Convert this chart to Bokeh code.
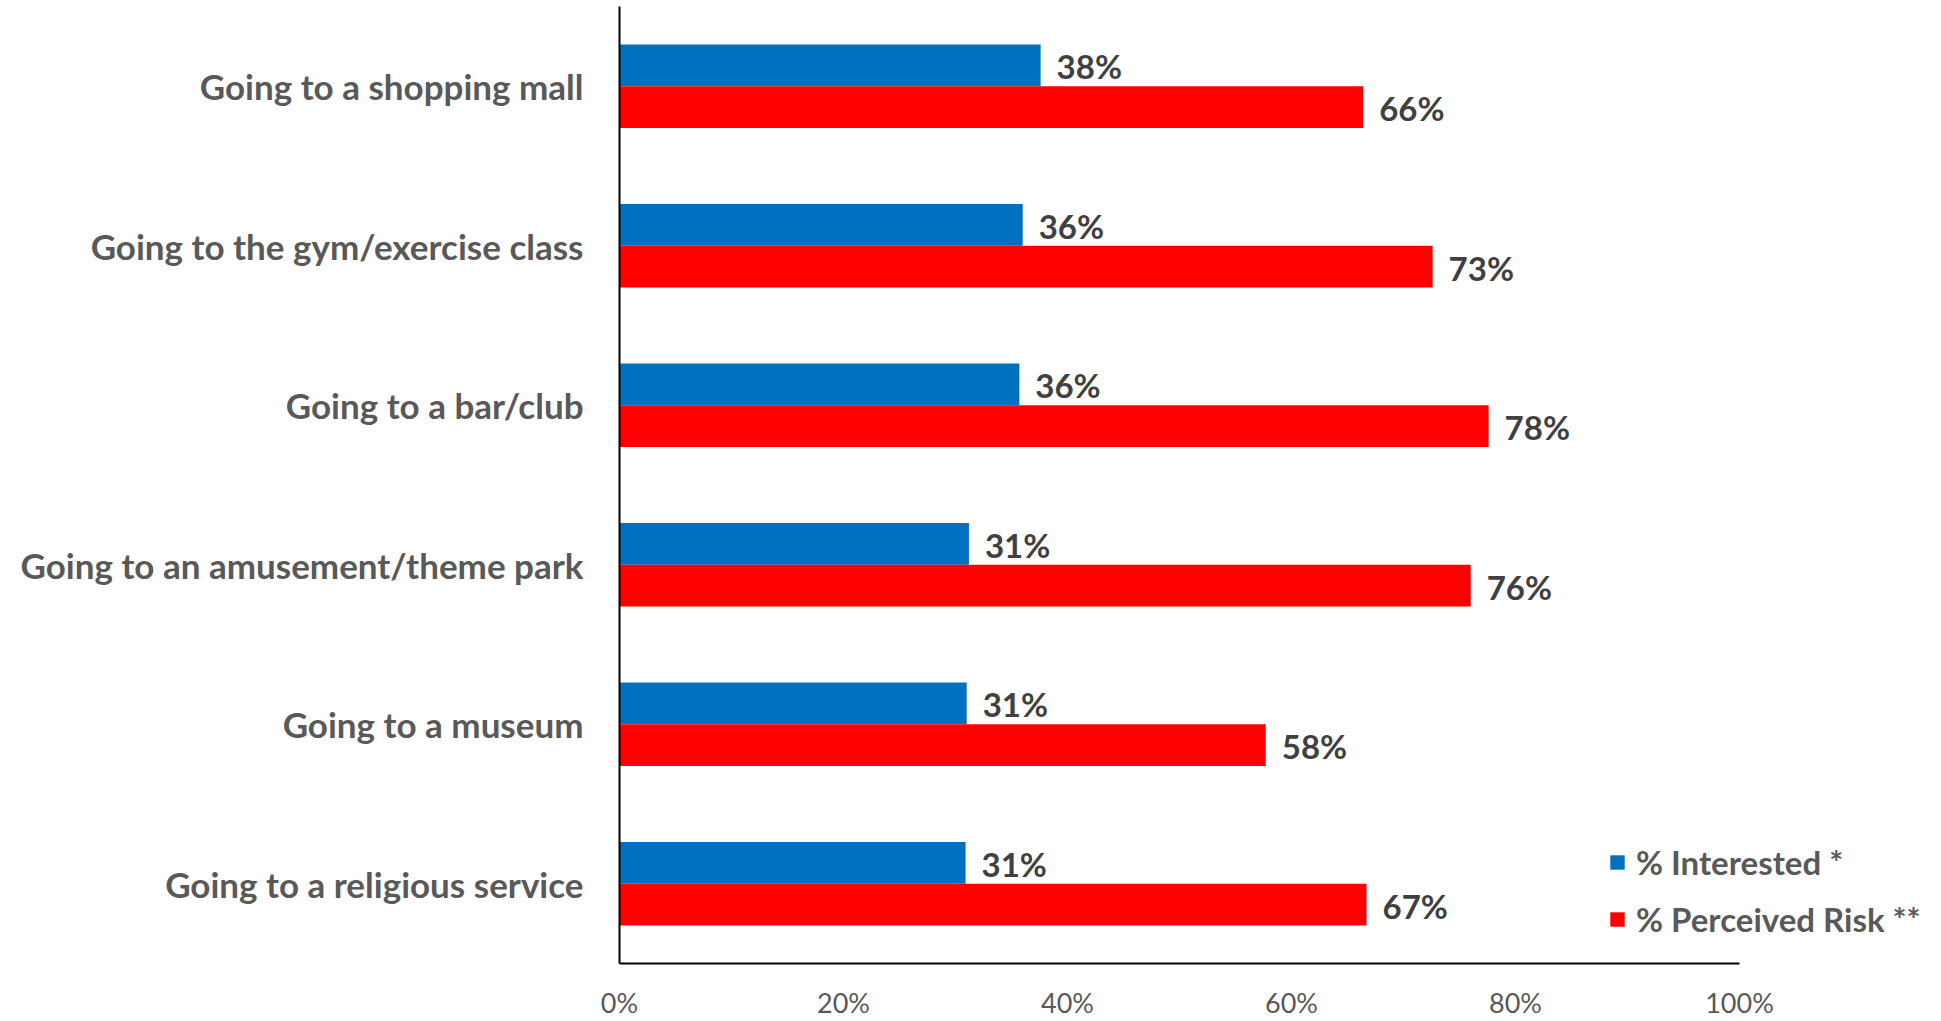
from bokeh.plotting import figure
from bokeh.models import (ColumnDataSource, FactorRange, Range1d, Legend, LegendItem, FixedTicker)
from bokeh.transform import dodge
from bokeh.embed import file_html
from bokeh.resources import INLINE
from bokeh.core.properties import value

categories = ["Going to a shopping mall", "Going to the gym/exercise class", "Going to a bar/club",
              "Going to an amusement/theme park", "Going to a museum", "Going to a religious service"]
interested = [37.6, 36.0, 35.7, 31.2, 31.0, 30.9]
perceived_risk = [66.4, 72.6, 77.6, 76.0, 57.7, 66.7]
x_ticks = [0, 20, 40, 60, 80, 100]

BLUE = "#0070C0"
RED = "#FF0000"
FONT = "Lato"

src = ColumnDataSource(dict(
    cat=categories,
    interested=interested,
    risk=perceived_risk,
    interested_lbl=[f"{round(v):d}%" for v in interested],
    risk_lbl=[f"{round(v):d}%" for v in perceived_risk],
))

LEFT = 619
RIGHT_BORDER = 5
PX_PER_PCT = 11.2
x_end = (1941 - LEFT - RIGHT_BORDER) / PX_PER_PCT

p = figure(width=1941, height=1021, output_backend="svg", toolbar_location=None,
           y_range=FactorRange(factors=list(reversed(categories)), range_padding=0),
           x_range=Range1d(0, x_end),
           min_border_left=LEFT, min_border_right=RIGHT_BORDER, min_border_top=6, min_border_bottom=55)

bh = 0.2625
r1 = p.hbar(y=dodge("cat", bh / 2, range=p.y_range), right="interested", left=0, height=bh,
            source=src, fill_color=BLUE, line_color=None)
r2 = p.hbar(y=dodge("cat", -bh / 2, range=p.y_range), right="risk", left=0, height=bh,
            source=src, fill_color=RED, line_color=None)

p.text(x="interested", y=dodge("cat", bh / 2, range=p.y_range), text="interested_lbl", source=src,
       x_offset=16, y_offset=1, text_baseline="middle", text_font=value(FONT),
       text_font_style="bold", text_font_size="33px", text_color="#404040")
p.text(x="risk", y=dodge("cat", -bh / 2, range=p.y_range), text="risk_lbl", source=src,
       x_offset=16, y_offset=1, text_baseline="middle", text_font=value(FONT),
       text_font_style="bold", text_font_size="33px", text_color="#404040")

p.xgrid.grid_line_color = None
p.ygrid.grid_line_color = None
p.outline_line_color = None

p.xaxis.ticker = FixedTicker(ticks=x_ticks)
p.xaxis.major_label_overrides = {t: f"{t}%" for t in x_ticks}
p.xaxis.bounds = (x_ticks[0], x_ticks[-1])
p.xaxis.major_tick_line_color = None
p.xaxis.minor_tick_line_color = None
p.xaxis.major_tick_in = 0
p.xaxis.major_tick_out = 0
p.xaxis.axis_line_color = "#000000"
p.xaxis.axis_line_width = 2
p.xaxis.major_label_text_font = FONT
p.xaxis.major_label_text_font_size = "27px"
p.xaxis.major_label_text_color = "#595959"
p.xaxis.major_label_standoff = 22

p.yaxis.major_tick_line_color = None
p.yaxis.minor_tick_line_color = None
p.yaxis.major_tick_in = 0
p.yaxis.major_tick_out = 0
p.yaxis.axis_line_color = "#000000"
p.yaxis.axis_line_width = 2
p.yaxis.major_label_text_font = FONT
p.yaxis.major_label_text_font_style = "bold"
p.yaxis.major_label_text_font_size = "35px"
p.yaxis.major_label_text_color = "#595959"
p.yaxis.major_label_standoff = 36

legend = Legend(items=[LegendItem(label="% Interested *", renderers=[r1]),
                       LegendItem(label="% Perceived Risk **", renderers=[r2])],
                location=(989, 24), orientation="vertical")
legend.border_line_color = None
legend.background_fill_alpha = 0
legend.padding = 0
legend.margin = 0
legend.spacing = 17
legend.glyph_width = 18
legend.glyph_height = 18
legend.label_height = 40
legend.label_standoff = 10
legend.label_text_font = FONT
legend.label_text_font_style = "bold"
legend.label_text_font_size = "33px"
legend.label_text_color = "#595959"
p.add_layout(legend)

open("out.html", "w").write(file_html(p, INLINE))
